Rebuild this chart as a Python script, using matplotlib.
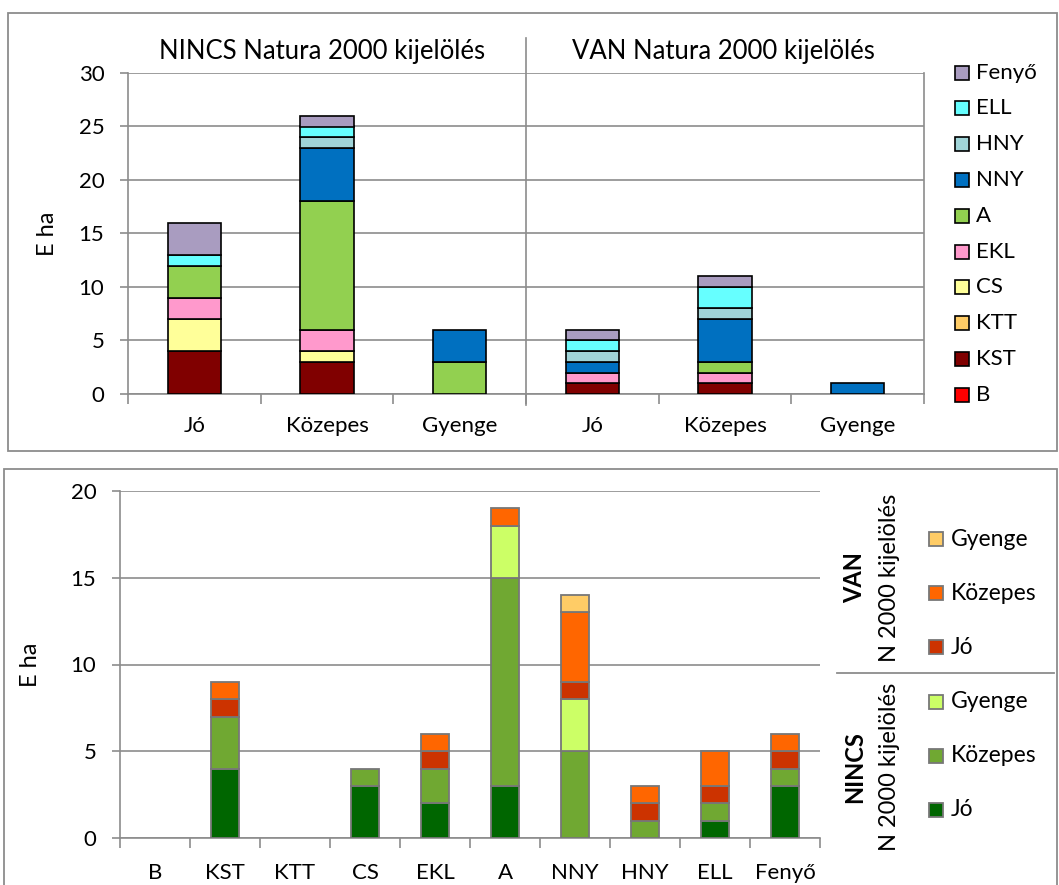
import matplotlib
matplotlib.use('Agg')
import matplotlib.pyplot as plt
from matplotlib.patches import Rectangle
from matplotlib.lines import Line2D
import numpy as np

plt.rcParams['font.family'] = ['Lato', 'DejaVu Sans']

# fafajok (alulrol felfele)
species = ['B', 'KST', 'KTT', 'CS', 'EKL', 'A', 'NNY', 'HNY', 'ELL', 'Fenyő']
# oszlopok: NINCS Jo, Kozepes, Gyenge, VAN Jo, Kozepes, Gyenge
groups = ['Jó', 'Közepes', 'Gyenge', 'Jó', 'Közepes', 'Gyenge']
B = [0, 0, 0, 0, 0, 0]
KST = [4, 3, 0, 1, 1, 0]
KTT = [0, 0, 0, 0, 0, 0]
CS = [3, 1, 0, 0, 0, 0]
EKL = [2, 2, 0, 1, 1, 0]
A = [3, 12, 3, 0, 1, 0]
NNY = [0, 5, 3, 1, 4, 1]
HNY = [0, 1, 0, 1, 1, 0]
ELL = [1, 1, 0, 1, 2, 0]
Fenyo = [3, 1, 0, 1, 1, 0]
table = np.array([B, KST, KTT, CS, EKL, A, NNY, HNY, ELL, Fenyo])

species_colors = ['#FF0000', '#800000', '#FFCC66', '#FFFF99', '#FF99CC',
                  '#92D050', '#0070C0', '#A0D4D8', '#66FFFF', '#A99CC0']

status_labels = ['Jó', 'Közepes', 'Gyenge', 'Jó', 'Közepes', 'Gyenge']
status_colors = ['#006600', '#70A832', '#CCFF66', '#CC3300', '#FF6600', '#FFCC66']

W, H = 1059, 885
fig = plt.figure(figsize=(W / 100, H / 100), dpi=100)


def px_axes(l, t, r, b):
    return fig.add_axes([l / W, 1 - b / H, (r - l) / W, (b - t) / H])


def fx(x):
    return x / W


def fy(y):
    return 1 - y / H


grid_c = '#8C8C8C'
fs = 16

# panel keretek
fig.add_artist(Rectangle((fx(8), fy(451)), fx(1057 - 8), (451 - 13) / H,
                         fill=False, ec=grid_c, lw=1.3, transform=fig.transFigure))
fig.add_artist(Rectangle((fx(4), fy(900)), fx(1057 - 4), (900 - 469) / H,
                         fill=False, ec=grid_c, lw=1.3, transform=fig.transFigure,
                         clip_on=False))


def style_axes(ax, ncat, ymax, right_spine):
    ax.set_xlim(0, ncat)
    ax.set_ylim(0, ymax)
    ax.set_yticks(np.arange(0, ymax + 1, 5))
    ax.yaxis.grid(True, color=grid_c, lw=1.2)
    ax.set_axisbelow(True)
    for s in ['left', 'bottom', 'right', 'top']:
        ax.spines[s].set_color(grid_c)
        ax.spines[s].set_linewidth(1.2)
    ax.spines['top'].set_visible(False)
    ax.spines['right'].set_visible(right_spine)
    ax.set_xticks(np.arange(ncat) + 0.5)
    ax.set_xticks(np.arange(ncat + 1), minor=True)
    ax.tick_params(axis='x', which='major', length=0, pad=16, labelsize=fs)
    ax.tick_params(axis='x', which='minor', length=7, width=1.2, color=grid_c,
                   direction='out')
    ax.tick_params(axis='y', length=6, width=1.2, color=grid_c, pad=11,
                   labelsize=fs)
    ax.set_ylabel('E ha', fontsize=17)


# felso diagram
ax1 = px_axes(128, 73, 924, 394)
x1 = np.arange(len(groups)) + 0.5
bottom = np.zeros(len(groups))
for i, sp in enumerate(species):
    vals = table[i]
    m = vals > 0
    ax1.bar(x1[m], vals[m], bottom=bottom[m], width=0.4,
            color=species_colors[i], edgecolor='black', linewidth=1.2, zorder=3)
    bottom += vals
style_axes(ax1, len(groups), 30, True)
ax1.set_xticklabels(groups)
ax1.yaxis.set_label_coords(-0.088, 0.5)

fig.add_artist(Line2D([fx(526), fx(526)], [fy(38), fy(405)], color=grid_c,
                      lw=1.2, transform=fig.transFigure))
fig.text(fx(322), fy(51), 'NINCS Natura 2000 kijelölés', ha='center',
         va='center', fontsize=18.5)
fig.text(fx(723), fy(51), 'VAN Natura 2000 kijelölés', ha='center',
         va='center', fontsize=18.5)

# felso jelmagyarazat
leg_y = [395, 359, 323, 287, 252, 216, 180, 144, 108, 73]
for i, sp in enumerate(species):
    yc = leg_y[i]
    fig.add_artist(Rectangle((fx(955), fy(yc + 7)), 14 / W, 14 / H,
                             fc=species_colors[i], ec='black', lw=1.2,
                             transform=fig.transFigure))
    fig.text(fx(976), fy(yc), sp, ha='left', va='center', fontsize=fs)

# also diagram
ax2 = px_axes(120, 491, 820, 838)
x2 = np.arange(len(species)) + 0.5
totals = table.T
bottom = np.zeros(len(species))
for j, lab in enumerate(status_labels):
    vals = totals[j]
    m = vals > 0
    ax2.bar(x2[m], vals[m], bottom=bottom[m], width=0.41,
            color=status_colors[j], edgecolor='#777777', linewidth=1.3, zorder=3)
    bottom += vals
style_axes(ax2, len(species), 20, False)
ax2.set_xticklabels(species)
ax2.tick_params(axis='x', which='major', pad=18)
ax2.yaxis.set_label_coords(-0.113, 0.5)

# also jelmagyarazat
fig.text(fx(855), fy(578), 'VAN', rotation=90, ha='center', va='center',
         fontsize=17, fontweight='bold')
fig.text(fx(889), fy(578), 'N 2000 kijelölés', rotation=90, ha='center',
         va='center', fontsize=17)
fig.text(fx(855), fy(767), 'NINCS', rotation=90, ha='center', va='center',
         fontsize=17, fontweight='bold')
fig.text(fx(889), fy(767), 'N 2000 kijelölés', rotation=90, ha='center',
         va='center', fontsize=17)
fig.add_artist(Line2D([fx(837), fx(1054)], [fy(673), fy(673)], color=grid_c,
                      lw=1.3, transform=fig.transFigure))

leg2_y = [810, 756, 702, 647, 593, 539]
for j, lab in enumerate(status_labels):
    yc = leg2_y[j]
    fig.add_artist(Rectangle((fx(929), fy(yc + 7)), 14 / W, 14 / H,
                             fc=status_colors[j], ec='#777777', lw=1.3,
                             transform=fig.transFigure))
    fig.text(fx(951), fy(yc), lab, ha='left', va='center', fontsize=16.5)

fig.savefig('out.png', dpi=100)
